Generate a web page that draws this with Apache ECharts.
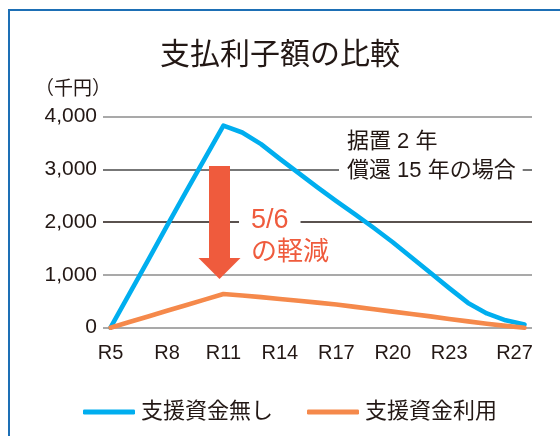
<!DOCTYPE html>
<html>
<head>
<meta charset="utf-8">
<script src="https://cdn.jsdelivr.net/npm/echarts@6/dist/echarts.min.js"></script>
<style>
html,body{margin:0;padding:0;background:#fff;}
#c{width:560px;height:436px;}
</style>
</head>
<body>
<div id="c"></div>
<script>
// ---- data ----
const years = [5,6,7,8,9,10,11,12,13,14,15,16,17,18,19,20,21,22,23,24,25,26,27];
const labelYears = [5,8,11,14,17,20,23,27];
const seriesNames = ['支援資金無し','支援資金利用'];
const noSupport = [0,640,1280,1930,2570,3200,3830,3700,3480,3200,2930,2660,2400,2150,1890,1620,1330,1040,750,470,270,140,60];
const withSupport = [0,107,213,320,427,533,640,610,580,545,510,475,440,395,350,305,260,215,165,120,75,35,0];
const yTicks = [0,1000,2000,3000,4000];

const FONT = "'Liberation Sans','Noto Sans CJK JP',sans-serif";
const TXT = '#231815';
const RED = '#ef5b3d';

const chart = echarts.init(document.getElementById('c'));
chart.setOption({
  animation: false,
  backgroundColor: '#fff',
  textStyle: { fontFamily: FONT },
  title: [
    { text: '支払利子額の比較', left: 'center', top: 36,
      textStyle: { fontSize: 30, fontWeight: 'normal', color: TXT, fontFamily: FONT } },
    { text: '（千円）', left: 30, top: 75,
      textStyle: { fontSize: 19, fontWeight: 'normal', color: TXT, fontFamily: FONT } }
  ],
  grid: { left: 103, right: 28, top: 116.7, bottom: 108.3, containLabel: false },
  xAxis: {
    type: 'value', min: 4.6, max: 27.4,
    axisLine: { show: false }, axisTick: { show: false }, splitLine: { show: false },
    axisLabel: {
      customValues: labelYears,
      margin: 16, fontSize: 20, color: TXT, fontFamily: FONT,
      formatter: function (v) { return v === 27 ? '{s|R' + v + '}' : 'R' + v; },
      rich: { s: { fontSize: 20, color: TXT, fontFamily: FONT, padding: [0, 20, 0, 0] } }
    }
  },
  yAxis: {
    type: 'value', min: yTicks[0], max: yTicks[yTicks.length - 1], interval: 1000,
    axisLine: { show: false }, axisTick: { show: false },
    axisLabel: { margin: 6, fontSize: 21, color: TXT, fontFamily: FONT,
      formatter: function (v) { return v.toLocaleString('en-US'); } },
    splitLine: { lineStyle: { color: ['#8c8c8c','#8c8c8c','#231815','#4a4a4a','#8c8c8c'], width: 1.6 } }
  },
  legend: {
    left: 78, top: 396, itemWidth: 52, itemHeight: 5, itemGap: 34, icon: 'roundRect',
    textStyle: { fontSize: 22, color: TXT, fontFamily: FONT, padding: [0,0,0,1] },
    data: seriesNames
  },
  series: [
    { name: seriesNames[0], type: 'line', symbol: 'none', color: '#00aeef',
      lineStyle: { width: 4.6, color: '#00aeef', cap: 'round', join: 'round' },
      data: years.map((y, i) => [y, noSupport[i]]) },
    { name: seriesNames[1], type: 'line', symbol: 'none', color: '#f5894b',
      lineStyle: { width: 4.6, color: '#f5894b', cap: 'round', join: 'round' },
      data: years.map((y, i) => [y, withSupport[i]]) }
  ],
  graphic: [
    { type: 'rect', silent: true, z: 100,
      shape: { x: 9, y: 10, width: 700, height: 600 },
      style: { fill: 'none', stroke: '#1d6fb5', lineWidth: 2 } },
    { type: 'polygon', z: 50,
      shape: { points: [[209,166],[230,166],[230,258],[240.5,258],[219.5,279],[198.5,258],[209,258]] },
      style: { fill: RED } },
    { type: 'text', z: 60, left: 239, top: 205,
      style: {
        text: '{a|5/6}\n{b|の軽減}',
        fill: RED,
        rich: {
          a: { fontSize: 27, fill: RED, fontFamily: FONT, backgroundColor: '#fff', padding: [2, 12, 2, 12], lineHeight: 31 },
          b: { fontSize: 26, fill: RED, fontFamily: FONT, padding: [0, 0, 0, 12], lineHeight: 34 }
        }
      } },
    { type: 'text', z: 60, left: 339, top: 128,
      style: {
        text: '据置 2 年\n償還 15 年の場合',
        fontSize: 22, lineHeight: 28.5, fill: TXT, fontFamily: FONT,
        backgroundColor: '#fff', padding: [0, 7, 0, 8]
      } }
  ]
});
</script>
</body>
</html>
